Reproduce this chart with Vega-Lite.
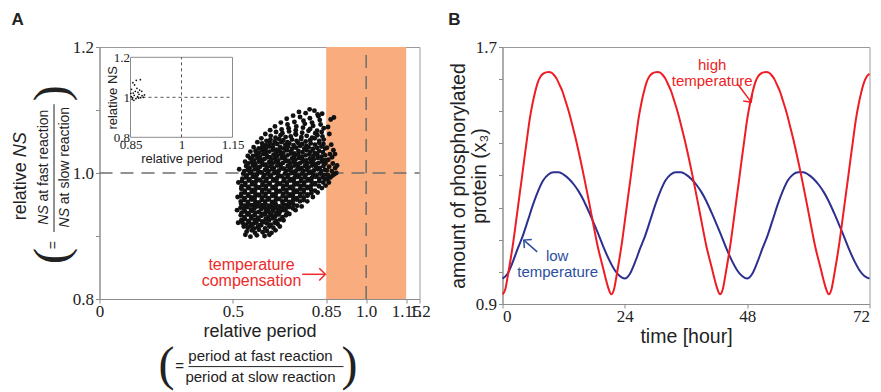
{
"$schema":"https://vega.github.io/schema/vega-lite/v6.json",
"background":"white",
"padding":{"left":10.5,"top":10,"right":0,"bottom":2},
"bounds":"flush",
"spacing":83,
"config":{
 "view":{"stroke":"#9a9a9a","strokeWidth":1},
 "axis":{"grid":false,"domainColor":"#8c8c8c","tickColor":"#8c8c8c","labelColor":"#222222","titleColor":"#222222","labelFont":"Liberation Serif","labelFontSize":17,"titleFont":"Liberation Sans","titleFontWeight":"normal","tickSize":4,"labelPadding":2},
 "title":{"font":"Liberation Sans","fontSize":17,"fontWeight":"bold","color":"#222222","anchor":"start","frame":"bounds"},
 "text":{"font":"Liberation Sans"}
},
"datasets":{
"scatter":[
{"x":0.552,"y":0.907},{"x":0.571,"y":0.909},{"x":0.583,"y":0.905},{"x":0.598,"y":0.910},{"x":0.612,"y":0.906},{"x":0.628,"y":0.908},{"x":0.645,"y":0.905},
{"x":0.541,"y":0.915},{"x":0.556,"y":0.913},{"x":0.566,"y":0.916},{"x":0.579,"y":0.912},{"x":0.593,"y":0.914},{"x":0.606,"y":0.917},{"x":0.621,"y":0.912},{"x":0.637,"y":0.915},{"x":0.652,"y":0.913},
{"x":0.536,"y":0.921},{"x":0.549,"y":0.918},{"x":0.561,"y":0.922},{"x":0.575,"y":0.919},{"x":0.588,"y":0.921},{"x":0.601,"y":0.917},{"x":0.614,"y":0.922},{"x":0.627,"y":0.920},{"x":0.642,"y":0.918},{"x":0.657,"y":0.921},{"x":0.668,"y":0.919},
{"x":0.532,"y":0.925},{"x":0.545,"y":0.927},{"x":0.558,"y":0.924},{"x":0.570,"y":0.928},{"x":0.583,"y":0.925},{"x":0.597,"y":0.926},{"x":0.610,"y":0.923},{"x":0.623,"y":0.927},{"x":0.636,"y":0.925},{"x":0.650,"y":0.928},{"x":0.663,"y":0.924},{"x":0.677,"y":0.926},
{"x":0.530,"y":0.933},{"x":0.543,"y":0.930},{"x":0.555,"y":0.934},{"x":0.568,"y":0.931},{"x":0.581,"y":0.933},{"x":0.594,"y":0.929},{"x":0.607,"y":0.932},{"x":0.620,"y":0.934},{"x":0.633,"y":0.930},{"x":0.646,"y":0.933},{"x":0.659,"y":0.931},{"x":0.672,"y":0.934},{"x":0.686,"y":0.930},{"x":0.699,"y":0.933},
{"x":0.533,"y":0.937},{"x":0.546,"y":0.939},{"x":0.559,"y":0.936},{"x":0.572,"y":0.940},{"x":0.585,"y":0.937},{"x":0.598,"y":0.938},{"x":0.611,"y":0.935},{"x":0.624,"y":0.939},{"x":0.637,"y":0.937},{"x":0.650,"y":0.940},{"x":0.663,"y":0.936},{"x":0.676,"y":0.938},{"x":0.689,"y":0.941},{"x":0.703,"y":0.937},
{"x":0.529,"y":0.945},{"x":0.542,"y":0.943},{"x":0.555,"y":0.946},{"x":0.568,"y":0.942},{"x":0.581,"y":0.944},{"x":0.594,"y":0.947},{"x":0.607,"y":0.943},{"x":0.620,"y":0.945},{"x":0.633,"y":0.942},{"x":0.646,"y":0.946},{"x":0.659,"y":0.944},{"x":0.672,"y":0.941},{"x":0.685,"y":0.945},{"x":0.698,"y":0.943},{"x":0.711,"y":0.946},{"x":0.725,"y":0.944},
{"x":0.531,"y":0.951},{"x":0.544,"y":0.948},{"x":0.557,"y":0.952},{"x":0.570,"y":0.949},{"x":0.583,"y":0.950},{"x":0.596,"y":0.953},{"x":0.609,"y":0.949},{"x":0.622,"y":0.951},{"x":0.635,"y":0.948},{"x":0.648,"y":0.952},{"x":0.661,"y":0.950},{"x":0.674,"y":0.947},{"x":0.687,"y":0.951},{"x":0.700,"y":0.949},{"x":0.713,"y":0.952},{"x":0.727,"y":0.950},{"x":0.741,"y":0.948},
{"x":0.530,"y":0.955},{"x":0.543,"y":0.957},{"x":0.556,"y":0.954},{"x":0.569,"y":0.958},{"x":0.582,"y":0.956},{"x":0.595,"y":0.953},{"x":0.608,"y":0.957},{"x":0.621,"y":0.955},{"x":0.634,"y":0.958},{"x":0.647,"y":0.954},{"x":0.660,"y":0.956},{"x":0.673,"y":0.959},{"x":0.686,"y":0.955},{"x":0.699,"y":0.957},{"x":0.712,"y":0.954},{"x":0.725,"y":0.956},{"x":0.739,"y":0.958},{"x":0.752,"y":0.955},{"x":0.765,"y":0.957},
{"x":0.531,"y":0.963},{"x":0.544,"y":0.960},{"x":0.557,"y":0.964},{"x":0.570,"y":0.961},{"x":0.583,"y":0.962},{"x":0.596,"y":0.965},{"x":0.609,"y":0.961},{"x":0.622,"y":0.963},{"x":0.635,"y":0.960},{"x":0.648,"y":0.964},{"x":0.661,"y":0.962},{"x":0.674,"y":0.959},{"x":0.687,"y":0.963},{"x":0.700,"y":0.961},{"x":0.713,"y":0.964},{"x":0.726,"y":0.962},{"x":0.739,"y":0.960},{"x":0.752,"y":0.963},{"x":0.766,"y":0.961},{"x":0.780,"y":0.964},
{"x":0.532,"y":0.967},{"x":0.545,"y":0.969},{"x":0.558,"y":0.966},{"x":0.571,"y":0.970},{"x":0.584,"y":0.968},{"x":0.597,"y":0.965},{"x":0.610,"y":0.969},{"x":0.623,"y":0.967},{"x":0.636,"y":0.970},{"x":0.649,"y":0.966},{"x":0.662,"y":0.968},{"x":0.675,"y":0.971},{"x":0.688,"y":0.967},{"x":0.701,"y":0.969},{"x":0.714,"y":0.966},{"x":0.727,"y":0.968},{"x":0.740,"y":0.970},{"x":0.753,"y":0.967},{"x":0.766,"y":0.969},{"x":0.780,"y":0.966},{"x":0.794,"y":0.968},
{"x":0.532,"y":0.975},{"x":0.545,"y":0.972},{"x":0.558,"y":0.976},{"x":0.571,"y":0.973},{"x":0.584,"y":0.974},{"x":0.597,"y":0.977},{"x":0.610,"y":0.973},{"x":0.623,"y":0.975},{"x":0.636,"y":0.972},{"x":0.649,"y":0.976},{"x":0.662,"y":0.974},{"x":0.675,"y":0.971},{"x":0.688,"y":0.975},{"x":0.701,"y":0.973},{"x":0.714,"y":0.976},{"x":0.727,"y":0.974},{"x":0.740,"y":0.972},{"x":0.753,"y":0.975},{"x":0.766,"y":0.973},{"x":0.779,"y":0.976},{"x":0.793,"y":0.974},{"x":0.808,"y":0.972},
{"x":0.533,"y":0.979},{"x":0.546,"y":0.981},{"x":0.559,"y":0.978},{"x":0.572,"y":0.982},{"x":0.585,"y":0.980},{"x":0.598,"y":0.977},{"x":0.611,"y":0.981},{"x":0.624,"y":0.979},{"x":0.637,"y":0.982},{"x":0.650,"y":0.978},{"x":0.663,"y":0.980},{"x":0.676,"y":0.983},{"x":0.689,"y":0.979},{"x":0.702,"y":0.981},{"x":0.715,"y":0.978},{"x":0.728,"y":0.980},{"x":0.741,"y":0.982},{"x":0.754,"y":0.979},{"x":0.767,"y":0.981},{"x":0.780,"y":0.978},{"x":0.794,"y":0.980},{"x":0.808,"y":0.982},{"x":0.823,"y":0.979},
{"x":0.534,"y":0.987},{"x":0.547,"y":0.984},{"x":0.560,"y":0.988},{"x":0.573,"y":0.985},{"x":0.586,"y":0.986},{"x":0.599,"y":0.989},{"x":0.612,"y":0.985},{"x":0.625,"y":0.987},{"x":0.638,"y":0.984},{"x":0.651,"y":0.988},{"x":0.664,"y":0.986},{"x":0.677,"y":0.983},{"x":0.690,"y":0.987},{"x":0.703,"y":0.985},{"x":0.716,"y":0.988},{"x":0.729,"y":0.986},{"x":0.742,"y":0.984},{"x":0.755,"y":0.987},{"x":0.768,"y":0.985},{"x":0.781,"y":0.988},{"x":0.795,"y":0.986},{"x":0.809,"y":0.984},{"x":0.824,"y":0.987},{"x":0.839,"y":0.985},
{"x":0.536,"y":0.991},{"x":0.549,"y":0.993},{"x":0.562,"y":0.990},{"x":0.575,"y":0.994},{"x":0.588,"y":0.992},{"x":0.601,"y":0.989},{"x":0.614,"y":0.993},{"x":0.627,"y":0.991},{"x":0.640,"y":0.994},{"x":0.653,"y":0.990},{"x":0.666,"y":0.992},{"x":0.679,"y":0.995},{"x":0.692,"y":0.991},{"x":0.705,"y":0.993},{"x":0.718,"y":0.990},{"x":0.731,"y":0.992},{"x":0.744,"y":0.994},{"x":0.757,"y":0.991},{"x":0.770,"y":0.993},{"x":0.783,"y":0.990},{"x":0.796,"y":0.992},{"x":0.810,"y":0.994},{"x":0.824,"y":0.991},{"x":0.837,"y":0.993},{"x":0.847,"y":0.990},
{"x":0.539,"y":0.999},{"x":0.552,"y":0.996},{"x":0.565,"y":1.000},{"x":0.578,"y":0.997},{"x":0.591,"y":0.998},{"x":0.604,"y":1.001},{"x":0.617,"y":0.997},{"x":0.630,"y":0.999},{"x":0.643,"y":0.996},{"x":0.656,"y":1.000},{"x":0.669,"y":0.998},{"x":0.682,"y":0.995},{"x":0.695,"y":0.999},{"x":0.708,"y":0.997},{"x":0.721,"y":1.000},{"x":0.734,"y":0.998},{"x":0.747,"y":0.996},{"x":0.760,"y":0.999},{"x":0.773,"y":0.997},{"x":0.786,"y":1.000},{"x":0.800,"y":0.998},{"x":0.814,"y":0.996},{"x":0.828,"y":0.999},{"x":0.842,"y":0.997},
{"x":0.543,"y":1.003},{"x":0.556,"y":1.005},{"x":0.569,"y":1.002},{"x":0.582,"y":1.006},{"x":0.595,"y":1.004},{"x":0.608,"y":1.001},{"x":0.621,"y":1.005},{"x":0.634,"y":1.003},{"x":0.647,"y":1.006},{"x":0.660,"y":1.002},{"x":0.673,"y":1.004},{"x":0.686,"y":1.007},{"x":0.699,"y":1.003},{"x":0.712,"y":1.005},{"x":0.725,"y":1.002},{"x":0.738,"y":1.004},{"x":0.751,"y":1.006},{"x":0.764,"y":1.003},{"x":0.777,"y":1.005},{"x":0.790,"y":1.002},{"x":0.804,"y":1.004},{"x":0.818,"y":1.006},{"x":0.832,"y":1.003},{"x":0.846,"y":1.005},
{"x":0.550,"y":1.011},{"x":0.563,"y":1.008},{"x":0.576,"y":1.012},{"x":0.589,"y":1.009},{"x":0.602,"y":1.010},{"x":0.615,"y":1.013},{"x":0.628,"y":1.009},{"x":0.641,"y":1.011},{"x":0.654,"y":1.008},{"x":0.667,"y":1.012},{"x":0.680,"y":1.010},{"x":0.693,"y":1.007},{"x":0.706,"y":1.011},{"x":0.719,"y":1.009},{"x":0.732,"y":1.012},{"x":0.745,"y":1.010},{"x":0.758,"y":1.008},{"x":0.771,"y":1.011},{"x":0.784,"y":1.009},{"x":0.798,"y":1.012},{"x":0.812,"y":1.010},{"x":0.826,"y":1.008},{"x":0.840,"y":1.011},
{"x":0.558,"y":1.015},{"x":0.571,"y":1.017},{"x":0.584,"y":1.014},{"x":0.597,"y":1.018},{"x":0.610,"y":1.016},{"x":0.623,"y":1.013},{"x":0.636,"y":1.017},{"x":0.649,"y":1.015},{"x":0.662,"y":1.018},{"x":0.675,"y":1.014},{"x":0.688,"y":1.016},{"x":0.701,"y":1.019},{"x":0.714,"y":1.015},{"x":0.727,"y":1.017},{"x":0.740,"y":1.014},{"x":0.753,"y":1.016},{"x":0.766,"y":1.018},{"x":0.779,"y":1.015},{"x":0.793,"y":1.017},{"x":0.807,"y":1.014},{"x":0.821,"y":1.016},{"x":0.835,"y":1.018},{"x":0.847,"y":1.015},
{"x":0.566,"y":1.023},{"x":0.579,"y":1.020},{"x":0.592,"y":1.024},{"x":0.605,"y":1.021},{"x":0.618,"y":1.022},{"x":0.631,"y":1.025},{"x":0.644,"y":1.021},{"x":0.657,"y":1.023},{"x":0.670,"y":1.020},{"x":0.683,"y":1.024},{"x":0.696,"y":1.022},{"x":0.709,"y":1.019},{"x":0.722,"y":1.023},{"x":0.735,"y":1.021},{"x":0.748,"y":1.024},{"x":0.761,"y":1.022},{"x":0.775,"y":1.020},{"x":0.789,"y":1.023},{"x":0.803,"y":1.021},{"x":0.818,"y":1.024},{"x":0.833,"y":1.022},{"x":0.845,"y":1.020},
{"x":0.575,"y":1.027},{"x":0.588,"y":1.029},{"x":0.601,"y":1.026},{"x":0.614,"y":1.030},{"x":0.627,"y":1.028},{"x":0.640,"y":1.025},{"x":0.653,"y":1.029},{"x":0.666,"y":1.027},{"x":0.679,"y":1.030},{"x":0.692,"y":1.026},{"x":0.705,"y":1.028},{"x":0.718,"y":1.031},{"x":0.731,"y":1.027},{"x":0.745,"y":1.029},{"x":0.759,"y":1.026},{"x":0.773,"y":1.028},{"x":0.787,"y":1.030},{"x":0.802,"y":1.027},{"x":0.817,"y":1.029},{"x":0.832,"y":1.026},{"x":0.846,"y":1.028},
{"x":0.585,"y":1.035},{"x":0.598,"y":1.032},{"x":0.611,"y":1.036},{"x":0.624,"y":1.033},{"x":0.637,"y":1.034},{"x":0.650,"y":1.037},{"x":0.663,"y":1.033},{"x":0.676,"y":1.035},{"x":0.689,"y":1.032},{"x":0.703,"y":1.036},{"x":0.717,"y":1.034},{"x":0.731,"y":1.031},{"x":0.746,"y":1.035},{"x":0.761,"y":1.033},{"x":0.776,"y":1.036},{"x":0.791,"y":1.034},{"x":0.807,"y":1.032},{"x":0.823,"y":1.035},{"x":0.838,"y":1.033},
{"x":0.597,"y":1.039},{"x":0.610,"y":1.041},{"x":0.623,"y":1.038},{"x":0.636,"y":1.042},{"x":0.650,"y":1.040},{"x":0.664,"y":1.037},{"x":0.678,"y":1.041},{"x":0.692,"y":1.039},{"x":0.707,"y":1.042},{"x":0.722,"y":1.038},{"x":0.737,"y":1.040},{"x":0.752,"y":1.043},{"x":0.768,"y":1.039},{"x":0.784,"y":1.041},{"x":0.800,"y":1.038},{"x":0.816,"y":1.040},{"x":0.832,"y":1.042},{"x":0.846,"y":1.039},
{"x":0.610,"y":1.047},{"x":0.624,"y":1.044},{"x":0.638,"y":1.048},{"x":0.652,"y":1.045},{"x":0.667,"y":1.046},{"x":0.682,"y":1.049},{"x":0.697,"y":1.045},{"x":0.712,"y":1.047},{"x":0.728,"y":1.044},{"x":0.744,"y":1.048},{"x":0.760,"y":1.046},{"x":0.776,"y":1.043},{"x":0.792,"y":1.047},{"x":0.808,"y":1.045},{"x":0.824,"y":1.048},{"x":0.840,"y":1.046},
{"x":0.626,"y":1.051},{"x":0.641,"y":1.053},{"x":0.657,"y":1.050},{"x":0.673,"y":1.054},{"x":0.689,"y":1.052},{"x":0.705,"y":1.049},{"x":0.722,"y":1.053},{"x":0.739,"y":1.051},{"x":0.756,"y":1.054},{"x":0.773,"y":1.050},{"x":0.790,"y":1.052},{"x":0.807,"y":1.055},{"x":0.824,"y":1.051},{"x":0.841,"y":1.053},
{"x":0.642,"y":1.059},{"x":0.660,"y":1.056},{"x":0.679,"y":1.060},{"x":0.698,"y":1.057},{"x":0.717,"y":1.058},{"x":0.737,"y":1.061},{"x":0.757,"y":1.057},{"x":0.777,"y":1.059},{"x":0.797,"y":1.056},{"x":0.817,"y":1.060},{"x":0.836,"y":1.058},
{"x":0.662,"y":1.065},{"x":0.686,"y":1.063},{"x":0.711,"y":1.066},{"x":0.735,"y":1.062},{"x":0.760,"y":1.064},{"x":0.784,"y":1.067},{"x":0.809,"y":1.063},{"x":0.833,"y":1.065},
{"x":0.683,"y":1.069},{"x":0.709,"y":1.071},{"x":0.736,"y":1.068},{"x":0.763,"y":1.072},{"x":0.790,"y":1.070},{"x":0.816,"y":1.067},{"x":0.841,"y":1.071},
{"x":0.705,"y":1.077},{"x":0.738,"y":1.074},{"x":0.770,"y":1.078},{"x":0.801,"y":1.075},{"x":0.829,"y":1.077},
{"x":0.731,"y":1.081},{"x":0.765,"y":1.083},{"x":0.797,"y":1.080},{"x":0.826,"y":1.084},
{"x":0.752,"y":1.089},{"x":0.789,"y":1.087},{"x":0.821,"y":1.090},
{"x":0.773,"y":1.095},{"x":0.818,"y":1.093},{"x":0.806,"y":1.099},
{"x":0.518,"y":0.962},{"x":0.521,"y":0.985},{"x":0.516,"y":0.941},{"x":0.524,"y":1.006},{"x":0.520,"y":0.921},
{"x":0.547,"y":0.902},{"x":0.566,"y":0.899},{"x":0.590,"y":0.901},{"x":0.619,"y":0.900},{"x":0.637,"y":0.902},{"x":0.660,"y":0.909},{"x":0.676,"y":0.915},
{"x":0.690,"y":0.925},{"x":0.712,"y":0.935},{"x":0.735,"y":0.941},{"x":0.758,"y":0.947},{"x":0.779,"y":0.955},{"x":0.800,"y":0.962},{"x":0.818,"y":0.969},{"x":0.834,"y":0.976},{"x":0.848,"y":0.980},
{"x":0.546,"y":1.018},{"x":0.556,"y":1.027},{"x":0.566,"y":1.034},{"x":0.578,"y":1.041},{"x":0.592,"y":1.049},{"x":0.607,"y":1.055},{"x":0.622,"y":1.062},{"x":0.640,"y":1.068},{"x":0.658,"y":1.074},{"x":0.680,"y":1.080},{"x":0.702,"y":1.086},{"x":0.726,"y":1.091},{"x":0.748,"y":1.097},{"x":0.788,"y":1.101},{"x":0.835,"y":1.094},
{"x":0.852,"y":1.004},{"x":0.856,"y":0.997},{"x":0.861,"y":1.010},{"x":0.858,"y":1.021},{"x":0.866,"y":0.993},{"x":0.871,"y":1.003},{"x":0.864,"y":1.030},{"x":0.875,"y":1.015},{"x":0.869,"y":1.045},{"x":0.880,"y":0.998},{"x":0.884,"y":1.008},{"x":0.862,"y":1.062},{"x":0.877,"y":1.036},{"x":0.853,"y":1.040},{"x":0.857,"y":1.073},{"x":0.888,"y":1.000},{"x":0.872,"y":1.025},{"x":0.855,"y":0.990},{"x":0.860,"y":0.985},{"x":0.891,"y":1.012},{"x":0.867,"y":1.085},{"x":0.883,"y":1.030},{"x":0.879,"y":1.088},{"x":0.851,"y":1.020},{"x":0.874,"y":0.996}
],
"curves":[
{"t":0,"v":0.979,"s":"low"},{"t":1,"v":0.994,"s":"low"},{"t":2,"v":1.030,"s":"low"},{"t":3,"v":1.073,"s":"low"},{"t":4,"v":1.113,"s":"low"},{"t":5,"v":1.161,"s":"low"},{"t":6,"v":1.210,"s":"low"},{"t":7,"v":1.252,"s":"low"},{"t":8,"v":1.285,"s":"low"},{"t":9,"v":1.303,"s":"low"},{"t":10,"v":1.310,"s":"low"},{"t":11,"v":1.310,"s":"low"},{"t":12,"v":1.303,"s":"low"},{"t":13,"v":1.290,"s":"low"},{"t":14,"v":1.272,"s":"low"},{"t":15,"v":1.249,"s":"low"},{"t":16,"v":1.220,"s":"low"},{"t":17,"v":1.185,"s":"low"},{"t":18,"v":1.148,"s":"low"},{"t":19,"v":1.110,"s":"low"},{"t":20,"v":1.070,"s":"low"},{"t":21,"v":1.035,"s":"low"},{"t":22,"v":1.006,"s":"low"},{"t":23,"v":0.987,"s":"low"},
{"t":24,"v":0.979,"s":"low"},{"t":25,"v":0.994,"s":"low"},{"t":26,"v":1.030,"s":"low"},{"t":27,"v":1.073,"s":"low"},{"t":28,"v":1.113,"s":"low"},{"t":29,"v":1.161,"s":"low"},{"t":30,"v":1.210,"s":"low"},{"t":31,"v":1.252,"s":"low"},{"t":32,"v":1.285,"s":"low"},{"t":33,"v":1.303,"s":"low"},{"t":34,"v":1.310,"s":"low"},{"t":35,"v":1.310,"s":"low"},{"t":36,"v":1.303,"s":"low"},{"t":37,"v":1.290,"s":"low"},{"t":38,"v":1.272,"s":"low"},{"t":39,"v":1.249,"s":"low"},{"t":40,"v":1.220,"s":"low"},{"t":41,"v":1.185,"s":"low"},{"t":42,"v":1.148,"s":"low"},{"t":43,"v":1.110,"s":"low"},{"t":44,"v":1.070,"s":"low"},{"t":45,"v":1.035,"s":"low"},{"t":46,"v":1.006,"s":"low"},{"t":47,"v":0.987,"s":"low"},
{"t":48,"v":0.979,"s":"low"},{"t":49,"v":0.994,"s":"low"},{"t":50,"v":1.030,"s":"low"},{"t":51,"v":1.073,"s":"low"},{"t":52,"v":1.113,"s":"low"},{"t":53,"v":1.161,"s":"low"},{"t":54,"v":1.210,"s":"low"},{"t":55,"v":1.252,"s":"low"},{"t":56,"v":1.285,"s":"low"},{"t":57,"v":1.303,"s":"low"},{"t":58,"v":1.310,"s":"low"},{"t":59,"v":1.310,"s":"low"},{"t":60,"v":1.303,"s":"low"},{"t":61,"v":1.290,"s":"low"},{"t":62,"v":1.272,"s":"low"},{"t":63,"v":1.249,"s":"low"},{"t":64,"v":1.220,"s":"low"},{"t":65,"v":1.185,"s":"low"},{"t":66,"v":1.148,"s":"low"},{"t":67,"v":1.110,"s":"low"},{"t":68,"v":1.070,"s":"low"},{"t":69,"v":1.035,"s":"low"},{"t":70,"v":1.006,"s":"low"},{"t":71,"v":0.987,"s":"low"},{"t":72,"v":0.979,"s":"low"},
{"t":0,"v":0.930,"s":"high"},{"t":0.533,"v":0.945,"s":"high"},{"t":1.067,"v":0.990,"s":"high"},{"t":1.6,"v":1.040,"s":"high"},{"t":2.133,"v":1.095,"s":"high"},{"t":2.667,"v":1.158,"s":"high"},{"t":3.2,"v":1.222,"s":"high"},{"t":3.733,"v":1.285,"s":"high"},{"t":4.267,"v":1.350,"s":"high"},{"t":4.8,"v":1.413,"s":"high"},{"t":5.333,"v":1.475,"s":"high"},{"t":5.867,"v":1.522,"s":"high"},{"t":6.4,"v":1.560,"s":"high"},{"t":6.933,"v":1.590,"s":"high"},{"t":7.467,"v":1.608,"s":"high"},{"t":8.0,"v":1.617,"s":"high"},{"t":8.533,"v":1.621,"s":"high"},{"t":9.067,"v":1.622,"s":"high"},{"t":9.6,"v":1.620,"s":"high"},{"t":10.133,"v":1.612,"s":"high"},{"t":10.667,"v":1.600,"s":"high"},{"t":11.2,"v":1.582,"s":"high"},{"t":11.733,"v":1.563,"s":"high"},{"t":12.267,"v":1.537,"s":"high"},{"t":12.8,"v":1.510,"s":"high"},{"t":13.333,"v":1.480,"s":"high"},{"t":13.867,"v":1.446,"s":"high"},{"t":14.4,"v":1.412,"s":"high"},{"t":14.933,"v":1.375,"s":"high"},{"t":15.467,"v":1.336,"s":"high"},{"t":16.0,"v":1.295,"s":"high"},{"t":16.533,"v":1.253,"s":"high"},{"t":17.067,"v":1.210,"s":"high"},{"t":17.6,"v":1.166,"s":"high"},{"t":18.133,"v":1.122,"s":"high"},{"t":18.667,"v":1.080,"s":"high"},{"t":19.2,"v":1.045,"s":"high"},{"t":19.733,"v":1.012,"s":"high"},{"t":20.267,"v":0.978,"s":"high"},{"t":20.8,"v":0.948,"s":"high"},
{"t":21.333,"v":0.930,"s":"high"},{"t":21.867,"v":0.945,"s":"high"},{"t":22.4,"v":0.990,"s":"high"},{"t":22.933,"v":1.040,"s":"high"},{"t":23.467,"v":1.095,"s":"high"},{"t":24.0,"v":1.158,"s":"high"},{"t":24.533,"v":1.222,"s":"high"},{"t":25.067,"v":1.285,"s":"high"},{"t":25.6,"v":1.350,"s":"high"},{"t":26.133,"v":1.413,"s":"high"},{"t":26.667,"v":1.475,"s":"high"},{"t":27.2,"v":1.522,"s":"high"},{"t":27.733,"v":1.560,"s":"high"},{"t":28.267,"v":1.590,"s":"high"},{"t":28.8,"v":1.608,"s":"high"},{"t":29.333,"v":1.617,"s":"high"},{"t":29.867,"v":1.621,"s":"high"},{"t":30.4,"v":1.622,"s":"high"},{"t":30.933,"v":1.620,"s":"high"},{"t":31.467,"v":1.612,"s":"high"},{"t":32.0,"v":1.600,"s":"high"},{"t":32.533,"v":1.582,"s":"high"},{"t":33.067,"v":1.563,"s":"high"},{"t":33.6,"v":1.537,"s":"high"},{"t":34.133,"v":1.510,"s":"high"},{"t":34.667,"v":1.480,"s":"high"},{"t":35.2,"v":1.446,"s":"high"},{"t":35.733,"v":1.412,"s":"high"},{"t":36.267,"v":1.375,"s":"high"},{"t":36.8,"v":1.336,"s":"high"},{"t":37.333,"v":1.295,"s":"high"},{"t":37.867,"v":1.253,"s":"high"},{"t":38.4,"v":1.210,"s":"high"},{"t":38.933,"v":1.166,"s":"high"},{"t":39.467,"v":1.122,"s":"high"},{"t":40.0,"v":1.080,"s":"high"},{"t":40.533,"v":1.045,"s":"high"},{"t":41.067,"v":1.012,"s":"high"},{"t":41.6,"v":0.978,"s":"high"},{"t":42.133,"v":0.948,"s":"high"},
{"t":42.667,"v":0.930,"s":"high"},{"t":43.2,"v":0.945,"s":"high"},{"t":43.733,"v":0.990,"s":"high"},{"t":44.267,"v":1.040,"s":"high"},{"t":44.8,"v":1.095,"s":"high"},{"t":45.333,"v":1.158,"s":"high"},{"t":45.867,"v":1.222,"s":"high"},{"t":46.4,"v":1.285,"s":"high"},{"t":46.933,"v":1.350,"s":"high"},{"t":47.467,"v":1.413,"s":"high"},{"t":48.0,"v":1.475,"s":"high"},{"t":48.533,"v":1.522,"s":"high"},{"t":49.067,"v":1.560,"s":"high"},{"t":49.6,"v":1.590,"s":"high"},{"t":50.133,"v":1.608,"s":"high"},{"t":50.667,"v":1.617,"s":"high"},{"t":51.2,"v":1.621,"s":"high"},{"t":51.733,"v":1.622,"s":"high"},{"t":52.267,"v":1.620,"s":"high"},{"t":52.8,"v":1.612,"s":"high"},{"t":53.333,"v":1.600,"s":"high"},{"t":53.867,"v":1.582,"s":"high"},{"t":54.4,"v":1.563,"s":"high"},{"t":54.933,"v":1.537,"s":"high"},{"t":55.467,"v":1.510,"s":"high"},{"t":56.0,"v":1.480,"s":"high"},{"t":56.533,"v":1.446,"s":"high"},{"t":57.067,"v":1.412,"s":"high"},{"t":57.6,"v":1.375,"s":"high"},{"t":58.133,"v":1.336,"s":"high"},{"t":58.667,"v":1.295,"s":"high"},{"t":59.2,"v":1.253,"s":"high"},{"t":59.733,"v":1.210,"s":"high"},{"t":60.267,"v":1.166,"s":"high"},{"t":60.8,"v":1.122,"s":"high"},{"t":61.333,"v":1.080,"s":"high"},{"t":61.867,"v":1.045,"s":"high"},{"t":62.4,"v":1.012,"s":"high"},{"t":62.933,"v":0.978,"s":"high"},{"t":63.467,"v":0.948,"s":"high"},
{"t":64.0,"v":0.930,"s":"high"},{"t":64.533,"v":0.945,"s":"high"},{"t":65.067,"v":0.990,"s":"high"},{"t":65.6,"v":1.040,"s":"high"},{"t":66.133,"v":1.095,"s":"high"},{"t":66.667,"v":1.158,"s":"high"},{"t":67.2,"v":1.222,"s":"high"},{"t":67.733,"v":1.285,"s":"high"},{"t":68.267,"v":1.350,"s":"high"},{"t":68.8,"v":1.413,"s":"high"},{"t":69.333,"v":1.475,"s":"high"},{"t":69.867,"v":1.522,"s":"high"},{"t":70.4,"v":1.560,"s":"high"},{"t":70.933,"v":1.590,"s":"high"},{"t":71.467,"v":1.608,"s":"high"},{"t":72.0,"v":1.617,"s":"high"}
]
},
"hconcat":[
{
 "width":320,"height":252,
 "title":{"text":"A","offset":9},
 "layer":[
  {
   "encoding":{
    "x":{"field":"x","type":"quantitative","scale":{"domain":[0,1.2],"nice":false,"zero":false},
         "axis":{"title":"relative period","titleFontSize":18,"titlePadding":3,"labelPadding":0,"values":[0,0.5,0.85,1,1.15,1.2],"labelOverlap":false,"labelFlush":false,
                 "labelExpr":"datum.value == 0 ? '0' : (datum.value == 0.85 || datum.value == 1.15) ? format(datum.value, '.2f') : format(datum.value, '.1f')"}},
    "y":{"field":"y","type":"quantitative","scale":{"domain":[0.8,1.2],"nice":false,"zero":false},
         "axis":{"title":null,"values":[0.8,0.9,1,1.1,1.2],"labelOverlap":false,"labelFlush":false,
                 "labelExpr":"(datum.value == 0.9 || datum.value == 1.1) ? '' : format(datum.value, '.1f')"}}
   },
   "layer":[
    {"data":{"values":[{"x":0.85,"x2":1.15,"y":0.8,"y2":1.2}]},
     "mark":{"type":"rect","fill":"#F9AD7F"},
     "encoding":{"x2":{"field":"x2"},"y2":{"field":"y2"}}},
    {"data":{"values":[{"x":1,"x2":1,"y":0.8,"y2":1.2},{"x":0,"x2":1.2,"y":1,"y2":1}]},
     "mark":{"type":"rule","color":"#6e6e6e","strokeWidth":1.5,"strokeDash":[13,8]},
     "encoding":{"x2":{"field":"x2"},"y2":{"field":"y2"}}},
    {"data":{"name":"scatter"},
     "mark":{"type":"circle","size":24,"color":"#111111","opacity":1}},
    {"data":{"values":[{"x":0.57,"y":0.8539,"label":"temperature"},{"x":0.57,"y":0.8286,"label":"compensation"}]},
     "mark":{"type":"text","color":"#EE2A2A","fontSize":16,"align":"center","baseline":"middle"},
     "encoding":{"text":{"field":"label"}}},
    {"data":{"values":[{"x":0.76,"x2":0.846,"y":0.8392,"y2":0.8392}]},
     "mark":{"type":"rule","color":"#EE2A2A","strokeWidth":1.5},
     "encoding":{"x2":{"field":"x2"},"y2":{"field":"y2"}}},
    {"data":{"values":[{"x":0.847,"y":0.8392}]},
     "mark":{"type":"point","shape":"M-1,-1L0,0L-1,1","size":150,"filled":false,"color":"#EE2A2A","strokeWidth":1.5,"opacity":1,"angle":0}},
    {"data":{"values":[{"x":-0.2962,"y":0.9712,"label":"relative"}]},
     "mark":{"type":"text","angle":270,"fontSize":18,"color":"#222222","align":"center","baseline":"middle"},
     "encoding":{"text":{"field":"label"}}},
    {"data":{"values":[{"x":-0.2962,"y":1.045,"label":"NS"}]},
     "mark":{"type":"text","angle":270,"fontSize":18,"fontStyle":"italic","color":"#222222","align":"center","baseline":"middle"},
     "encoding":{"text":{"field":"label"}}},
    {"data":{"values":[{"x":-0.21,"y":1.0277,"label":"at fast reaction"},{"x":-0.1312,"y":1.0277,"label":"at slow reaction"},{"x":-0.1706,"y":0.8856,"label":"="}]},
     "mark":{"type":"text","angle":270,"fontSize":14,"color":"#222222","align":"center","baseline":"middle"},
     "encoding":{"text":{"field":"label"}}},
    {"data":{"values":[{"x":-0.21,"y":0.9334,"label":"NS"},{"x":-0.1312,"y":0.9291,"label":"NS"}]},
     "mark":{"type":"text","angle":270,"fontSize":14,"fontStyle":"italic","color":"#222222","align":"center","baseline":"middle"},
     "encoding":{"text":{"field":"label"}}},
    {"data":{"values":[{"x":-0.1762,"y":0.8682,"label":"("},{"x":-0.1762,"y":1.1266,"label":")"}]},
     "mark":{"type":"text","angle":270,"font":"Liberation Serif","fontSize":48,"color":"#222222","align":"center","baseline":"middle"},
     "encoding":{"text":{"field":"label"}}},
    {"data":{"values":[{"x":-0.1706,"x2":-0.1706,"y":1.1092,"y2":0.9063},{"x":0.3337,"x2":0.9149,"y":0.6927,"y2":0.6927}]},
     "mark":{"type":"rule","color":"#222222","strokeWidth":1},
     "encoding":{"x2":{"field":"x2"},"y2":{"field":"y2"}}},
    {"data":{"values":[{"x":0.6037,"y":0.7101,"label":"period at fast reaction"},{"x":0.6037,"y":0.6759,"label":"period at slow reaction"},{"x":0.3,"y":0.6938,"label":"="}]},
     "mark":{"type":"text","fontSize":15,"color":"#222222","align":"center","baseline":"middle"},
     "encoding":{"text":{"field":"label"}}},
    {"data":{"values":[{"x":0.2512,"y":0.693,"label":"("},{"x":0.9374,"y":0.693,"label":")"}]},
     "mark":{"type":"text","font":"Liberation Serif","fontSize":48,"color":"#222222","align":"center","baseline":"middle"},
     "encoding":{"text":{"field":"label"}}}
   ]
  },
  {
   "encoding":{
    "x":{"field":"x","type":"quantitative","scale":{"domain":[0.85,1.15],"range":[31,133],"nice":false,"zero":false},
         "axis":{"orient":"bottom","offset":-161.7,"values":[0.85,1,1.15],"labelExpr":"datum.value == 1 ? '1' : format(datum.value, '.2f')","labelFontSize":13,"ticks":false,"domain":false,"labelPadding":1,"labelOverlap":false,"labelFlush":false,"title":"relative period","titleFontSize":13,"titlePadding":1}},
    "y":{"field":"y","type":"quantitative","scale":{"domain":[0.8,1.2],"range":[90.3,10.3],"nice":false,"zero":false},
         "axis":{"orient":"left","offset":-31,"values":[0.8,1,1.2],"labelExpr":"datum.value == 1 ? '1' : format(datum.value, '.1f')","labelFontSize":13,"ticks":false,"domain":false,"labelPadding":1,"labelOverlap":false,"labelFlush":false,"title":"relative NS","titleFontSize":13,"titlePadding":-6}}
   },
   "layer":[
    {"data":{"values":[{"x":0.85,"x2":1.15,"y":0.8,"y2":1.2}]},
     "mark":{"type":"rect","fill":"white","stroke":"#8c8c8c","strokeWidth":1},
     "encoding":{"x2":{"field":"x2"},"y2":{"field":"y2"}}},
    {"data":{"values":[{"x":1,"x2":1,"y":0.8,"y2":1.2},{"x":0.85,"x2":1.15,"y":1,"y2":1}]},
     "mark":{"type":"rule","color":"#555555","strokeWidth":1,"strokeDash":[3,3]},
     "encoding":{"x2":{"field":"x2"},"y2":{"field":"y2"}}},
    {"data":{"name":"scatter"},"transform":[{"filter":"datum.x >= 0.85"}],
     "mark":{"type":"circle","size":3,"color":"#111111","opacity":1}}
   ]
  }
 ],
 "resolve":{"scale":{"x":"independent","y":"independent"}}
},
{
 "width":367,"height":257,
 "title":{"text":"B","offset":9},
 "encoding":{
  "x":{"field":"t","type":"quantitative","scale":{"domain":[0,72],"nice":false,"zero":false},
       "axis":{"title":"time [hour]","titleFontSize":19.5,"titlePadding":3,"labelPadding":0,"values":[0,24,48,72]}},
  "y":{"field":"v","type":"quantitative","scale":{"domain":[0.9,1.7],"nice":false,"zero":false},
       "axis":{"title":["amount of phosphorylated","protein (x₃)"],"titleFontSize":19.5,"titleLineHeight":21,"titlePadding":-14,"values":[0.9,1,1.1,1.2,1.3,1.4,1.5,1.6,1.7],
               "labelExpr":"(datum.value == 0.9 || datum.value == 1.7) ? format(datum.value, '.1f') : ''"}}
 },
 "layer":[
  {"data":{"name":"curves"},"transform":[{"filter":"datum.s == 'low'"}],
   "mark":{"type":"line","color":"#2B2F8F","strokeWidth":2,"interpolate":"monotone"}},
  {"data":{"name":"curves"},"transform":[{"filter":"datum.s == 'high'"}],
   "mark":{"type":"line","color":"#EE1D23","strokeWidth":2,"interpolate":"monotone"}},
  {"data":{"values":[{"t":41.14,"v":1.643,"label":"high"},{"t":41.14,"v":1.595,"label":"temperature"}]},
   "mark":{"type":"text","color":"#EE1D23","fontSize":15,"align":"center","baseline":"middle"},
   "encoding":{"text":{"field":"label"}}},
  {"data":{"values":[{"t":46.24,"t2":48.79,"v":1.5826,"v2":1.5283}]},
   "mark":{"type":"rule","color":"#EE1D23","strokeWidth":1.5},
   "encoding":{"x2":{"field":"t2"},"y2":{"field":"v2"}}},
  {"data":{"values":[{"t":48.79,"v":1.5283}]},
   "mark":{"type":"point","shape":"M-1,-1L0,0L-1,1","size":130,"filled":false,"color":"#EE1D23","strokeWidth":1.5,"opacity":1,"angle":53}},
  {"data":{"values":[{"t":10.73,"v":1.0483,"label":"low"},{"t":10.83,"v":0.9999,"label":"temperature"}]},
   "mark":{"type":"text","color":"#2C4FA0","fontSize":15,"align":"center","baseline":"middle"},
   "encoding":{"text":{"field":"label"}}},
  {"data":{"values":[{"t":6.81,"t2":4.18,"v":1.0624,"v2":1.0989}]},
   "mark":{"type":"rule","color":"#2C4FA0","strokeWidth":1.5},
   "encoding":{"x2":{"field":"t2"},"y2":{"field":"v2"}}},
  {"data":{"values":[{"t":4.18,"v":1.0989}]},
   "mark":{"type":"point","shape":"M-1,-1L0,0L-1,1","size":130,"filled":false,"color":"#2C4FA0","strokeWidth":1.5,"opacity":1,"angle":221}}
 ]
}
]
}
